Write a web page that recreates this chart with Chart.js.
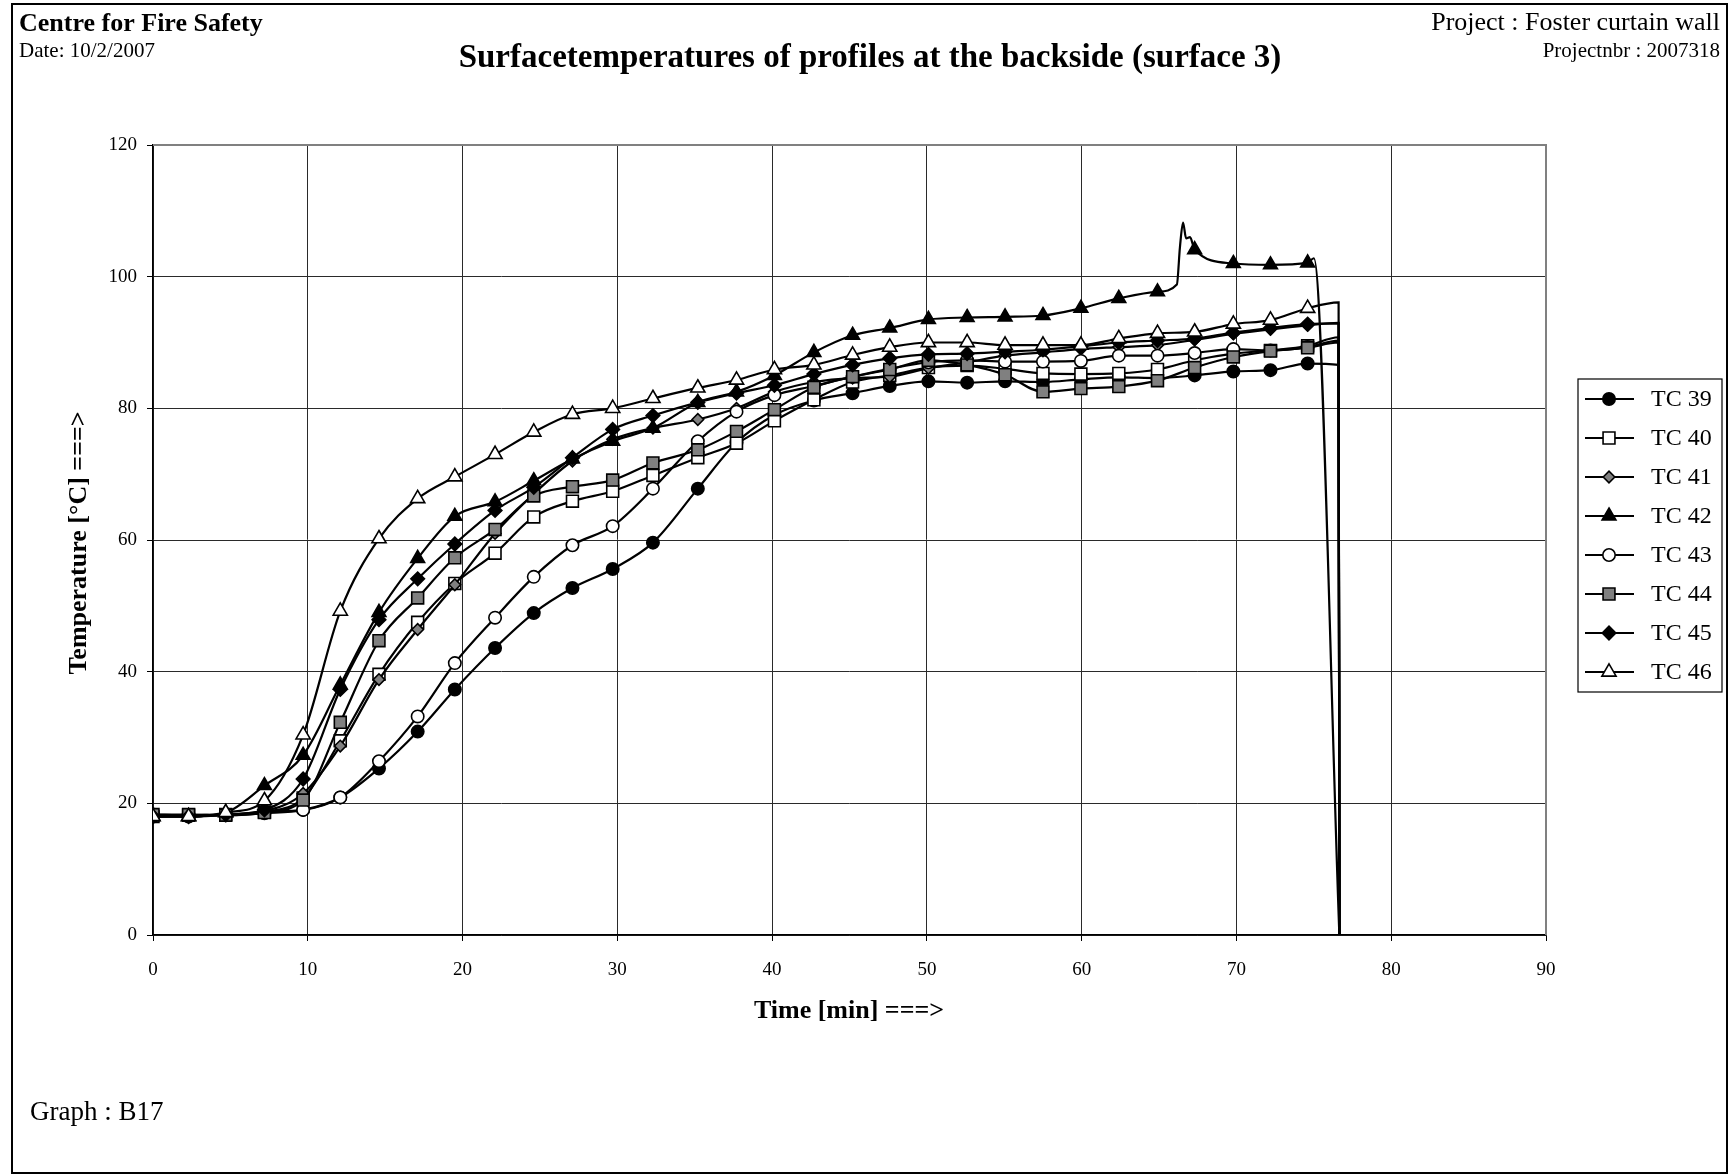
<!DOCTYPE html>
<html>
<head>
<meta charset="utf-8">
<script src="https://cdn.jsdelivr.net/npm/chart.js@4.4.1/dist/chart.umd.min.js"></script>
<style>
  html, body { margin: 0; padding: 0; background: #fff; }
  canvas { display: block; }
</style>
</head>
<body>
<canvas id="chart" width="1731" height="1175"></canvas>
<script>
// time of every marker point [min]
const minutes = [0, 2.3, 4.7, 7.2, 9.7, 12.1, 14.6, 17.1, 19.5, 22.1, 24.6, 27.1, 29.7, 32.3, 35.2,
  37.7, 40.15, 42.7, 45.2, 47.6, 50.1, 52.6, 55.05, 57.5, 59.95, 62.4, 64.9, 67.3, 69.8, 72.2, 74.6];

const seriesNames = ['TC 39', 'TC 40', 'TC 41', 'TC 42', 'TC 43', 'TC 44', 'TC 45', 'TC 46'];

const tc39 = [18.3, 18.2, 18.2, 18.5, 19.0, 20.9, 25.3, 30.9, 37.3, 43.6, 48.9, 52.7, 55.6, 59.6, 67.8,
  74.8, 79.0, 81.2, 82.3, 83.4, 84.1, 83.9, 84.1, 84.0, 84.4, 84.7, 84.6, 85.0, 85.6, 85.8, 86.8];
const tc40 = [18.0, 18.2, 18.3, 18.7, 20.8, 29.5, 39.6, 47.5, 53.4, 58.0, 63.5, 65.9, 67.4, 69.8, 72.5,
  74.7, 78.1, 81.3, 84.0, 85.0, 86.2, 86.5, 86.0, 85.3, 85.2, 85.3, 85.9, 87.3, 88.3, 88.8, 89.5];
const tc41 = [18.0, 18.0, 18.3, 18.8, 21.5, 28.7, 38.8, 46.4, 53.2, 61.0, 67.0, 72.0, 75.3, 77.0, 78.3,
  80.0, 82.5, 84.0, 84.6, 84.8, 86.1, 87.0, 88.0, 88.5, 89.0, 89.3, 89.6, 90.4, 91.3, 92.0, 92.6];
const tc42 = [18.0, 18.0, 18.6, 22.7, 27.3, 38.0, 49.0, 57.2, 63.6, 65.8, 69.0, 72.3, 75.0, 77.0, 80.9,
  82.5, 85.0, 88.5, 91.1, 92.2, 93.5, 93.8, 93.9, 94.1, 95.2, 96.7, 97.7, 104.1, 102.0, 101.8, 102.1];
const tc43 = [18.0, 18.0, 18.2, 18.7, 19.0, 20.9, 26.4, 33.2, 41.3, 48.2, 54.4, 59.2, 62.1, 67.8, 75.0,
  79.5, 82.0, 83.4, 84.8, 86.0, 87.0, 87.3, 87.1, 87.1, 87.2, 88.0, 88.0, 88.4, 89.0, 88.8, 89.3];
const tc44 = [18.3, 18.3, 18.2, 18.6, 20.5, 32.3, 44.7, 51.2, 57.3, 61.6, 66.7, 68.1, 69.1, 71.7, 73.7,
  76.5, 79.8, 83.2, 84.8, 85.9, 87.3, 86.6, 85.1, 82.5, 83.0, 83.3, 84.2, 86.2, 87.8, 88.7, 89.2];
const tc45 = [18.0, 18.0, 18.3, 19.0, 23.7, 37.3, 47.9, 54.1, 59.4, 64.5, 68.0, 72.5, 76.8, 78.9, 80.9,
  82.3, 83.5, 85.2, 86.6, 87.6, 88.2, 88.3, 88.6, 88.9, 89.4, 90.0, 90.3, 90.6, 91.5, 92.2, 92.8];
const tc46 = [18.0, 18.0, 18.6, 20.4, 30.4, 49.2, 60.2, 66.3, 69.6, 73.0, 76.4, 79.1, 80.0, 81.5, 83.1,
  84.3, 85.9, 86.6, 88.1, 89.3, 90.0, 90.0, 89.6, 89.6, 89.6, 90.6, 91.4, 91.6, 92.8, 93.4, 95.2];
const seriesValues = [tc39, tc40, tc41, tc42, tc43, tc44, tc45, tc46];

// short peak of TC 42 just after 66 min
const tc42SpikeMinutes = [66.15, 66.35, 66.55, 66.75, 67.0];
const tc42SpikeValues = [98.8, 104.5, 108.2, 105.8, 106.0];

// last reading before the loggers were switched off, then the drop to 0
const endMinutes = [76.6, 76.6, 76.6, 75.0, 76.6, 76.6, 76.6, 76.6];
const endValues = [86.6, 90.8, 93.0, 102.8, 90.3, 90.0, 92.9, 96.1];
const dropMinute = 76.65;
const dropValue = 0;

const xTicks = [0, 10, 20, 30, 40, 50, 60, 70, 80, 90];
const yTicks = [0, 20, 40, 60, 80, 100, 120];

const SERIF = "'Liberation Serif', 'Times New Roman', serif";

// marker look of each series
const markers = [
  { style: 'circle', radius: 6.2, fill: '#000000' },
  { style: 'rect', radius: 8.4, fill: '#ffffff' },
  { style: 'rectRot', radius: 5.8, fill: '#808080' },
  { style: 'triangle', radius: 8, fill: '#000000' },
  { style: 'circle', radius: 6.2, fill: '#ffffff' },
  { style: 'rect', radius: 8.4, fill: '#808080' },
  { style: 'rectRot', radius: 6.8, fill: '#000000' },
  { style: 'triangle', radius: 8.2, fill: '#ffffff' }
];

const markerSet = new Set(minutes);

function buildPoints(i) {
  const pts = minutes.map((m, k) => ({ x: m, y: seriesValues[i][k] }));
  if (i === 3) {
    tc42SpikeMinutes.forEach((m, k) => pts.push({ x: m, y: tc42SpikeValues[k] }));
  }
  pts.push({ x: endMinutes[i], y: endValues[i] });
  pts.push({ x: dropMinute, y: dropValue });
  pts.sort((a, b) => a.x - b.x);
  return pts;
}

const datasets = seriesNames.map((name, i) => ({
  label: name,
  data: buildPoints(i),
  order: seriesNames.length - i,
  borderColor: '#000',
  borderWidth: 2.2,
  cubicInterpolationMode: 'monotone',
  pointStyle: markers[i].style,
  pointRadius: ctx => markerSet.has(ctx.raw.x) ? markers[i].radius : 0,
  pointBackgroundColor: markers[i].fill,
  pointBorderColor: '#000',
  pointBorderWidth: 1.6
}));

// sheet texts, frame and legend
const sheetPlugin = {
  id: 'sheet',
  afterDraw(chart) {
    const ctx = chart.ctx;
    const area = chart.chartArea;
    ctx.save();

    // plot border top + right in grey
    ctx.strokeStyle = '#808080';
    ctx.lineWidth = 2;
    ctx.beginPath();
    ctx.moveTo(area.left, area.top);
    ctx.lineTo(area.right, area.top);
    ctx.lineTo(area.right, area.bottom);
    ctx.stroke();

    // page frame
    ctx.strokeStyle = '#000';
    ctx.lineWidth = 2;
    ctx.strokeRect(12, 4, 1715, 1169);

    ctx.fillStyle = '#000';
    ctx.textBaseline = 'alphabetic';
    ctx.textAlign = 'left';
    ctx.font = 'bold 26px ' + SERIF;
    ctx.fillText('Centre for Fire Safety', 19, 31);
    ctx.font = '21px ' + SERIF;
    ctx.fillText('Date: 10/2/2007', 19, 57);

    ctx.textAlign = 'right';
    ctx.font = '26px ' + SERIF;
    ctx.fillText('Project : Foster curtain wall', 1720, 30);
    ctx.font = '21px ' + SERIF;
    ctx.fillText('Projectnbr : 2007318', 1720, 57);

    ctx.textAlign = 'center';
    ctx.font = 'bold 33px ' + SERIF;
    ctx.fillText('Surfacetemperatures of profiles at the backside (surface 3)', 870, 67);

    // axis titles
    ctx.font = 'bold 26px ' + SERIF;
    ctx.fillText('Time [min] ===>', 849, 1018);
    ctx.save();
    ctx.translate(86, 543);
    ctx.rotate(-Math.PI / 2);
    ctx.fillText('Temperature [°C] ===>', 0, 0);
    ctx.restore();

    ctx.textAlign = 'left';
    ctx.font = '27px ' + SERIF;
    ctx.fillText('Graph : B17', 30, 1120);

    // legend
    const lx = 1578, ly = 379, lw = 144, lh = 313;
    ctx.fillStyle = '#fff';
    ctx.fillRect(lx, ly, lw, lh);
    ctx.strokeStyle = '#000';
    ctx.lineWidth = 1.2;
    ctx.strokeRect(lx, ly, lw, lh);
    seriesNames.forEach((name, i) => {
      const cy = 399 + i * 39;
      ctx.strokeStyle = '#000';
      ctx.lineWidth = 2.2;
      ctx.beginPath();
      ctx.moveTo(1585, cy);
      ctx.lineTo(1634, cy);
      ctx.stroke();
      ctx.fillStyle = markers[i].fill;
      ctx.strokeStyle = '#000';
      ctx.lineWidth = 1.6;
      Chart.helpers.drawPoint(ctx, {
        pointStyle: markers[i].style,
        radius: markers[i].radius,
        rotation: 0,
        borderWidth: 1.6
      }, 1609, cy);
      ctx.fillStyle = '#000';
      ctx.font = '24px ' + SERIF;
      ctx.textBaseline = 'middle';
      ctx.fillText(name, 1651, cy + 1);
    });

    ctx.restore();
  }
};

const chart = new Chart(document.getElementById('chart'), {
  type: 'line',
  data: { datasets: datasets },
  plugins: [sheetPlugin],
  options: {
    responsive: false,
    animation: false,
    events: [],
    layout: { padding: { left: 0, top: 145, right: 185, bottom: 0 } },
    plugins: {
      legend: { display: false },
      tooltip: { enabled: false }
    },
    scales: {
      x: {
        type: 'linear',
        min: xTicks[0],
        max: xTicks[xTicks.length - 1],
        afterBuildTicks: s => { s.ticks = xTicks.map(v => ({ value: v })); },
        afterFit: s => { s.height = 240; },
        ticks: { color: '#000', font: { family: SERIF, size: 19 }, padding: 18, maxRotation: 0 },
        grid: { color: '#2a2a2a', lineWidth: 1, tickLength: 6, tickColor: '#000' },
        border: { color: '#000', width: 1.5 }
      },
      y: {
        type: 'linear',
        min: yTicks[0],
        max: yTicks[yTicks.length - 1],
        afterBuildTicks: s => { s.ticks = yTicks.map(v => ({ value: v })); },
        afterFit: s => { s.width = 153; },
        ticks: { color: '#000', font: { family: SERIF, size: 19 }, padding: 10 },
        grid: { color: '#2a2a2a', lineWidth: 1, tickLength: 6, tickColor: '#000' },
        border: { color: '#000', width: 1.5 }
      }
    }
  }
});
</script>
</body>
</html>
